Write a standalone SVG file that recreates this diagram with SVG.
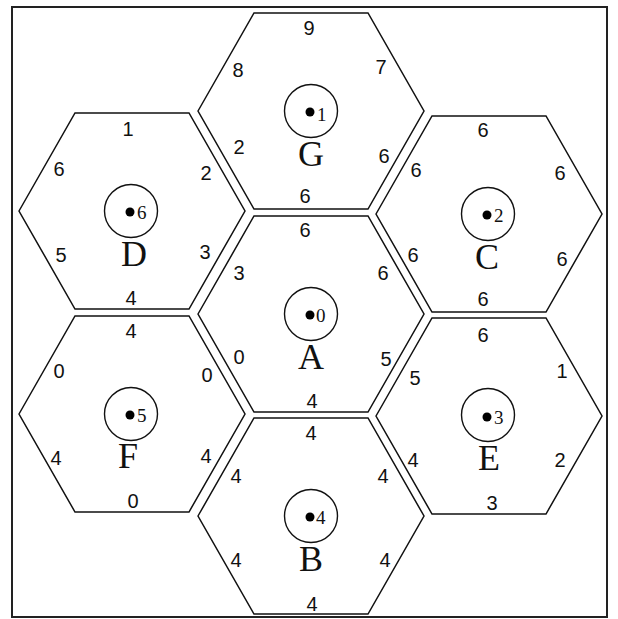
<svg xmlns="http://www.w3.org/2000/svg" width="618" height="619" viewBox="0 0 618 619">
<style>
.hex{fill:none;stroke:#111;stroke-width:1.5;stroke-linejoin:miter}
.ring{fill:none;stroke:#111;stroke-width:1.4}
.dot{fill:#000}
.lbl{font-family:"Liberation Sans",Arial,sans-serif;font-size:20px;fill:#111;text-anchor:middle}
.num{font-family:"Liberation Serif","Times New Roman",serif;font-size:19px;fill:#111}
.name{font-family:"Liberation Serif","Times New Roman",serif;font-size:36px;fill:#111;text-anchor:middle}
</style>
<rect x="0" y="0" width="618" height="619" fill="#fff"/>
<rect x="12" y="7" width="595" height="610" fill="none" stroke="#222" stroke-width="2"/>

<g id="cell-G">
<polygon class="hex" points="198,111 254,13 368,13 424,111 368,209 254,209"/>
<circle class="ring" cx="311" cy="111" r="26.5"/>
<circle class="dot" cx="310" cy="112" r="4.5"/>
<text class="num" x="317" y="121">1</text>
<text class="name" x="311" y="166">G</text>
<text class="lbl" x="309" y="35">9</text>
<text class="lbl" x="238" y="77">8</text>
<text class="lbl" x="381" y="74">7</text>
<text class="lbl" x="239" y="154">2</text>
<text class="lbl" x="384" y="163">6</text>
<text class="lbl" x="305" y="203">6</text>
</g>

<g id="cell-D">
<polygon class="hex" points="19,211 75,113 189,113 245,211 189,309 75,309"/>
<circle class="ring" cx="131" cy="211" r="26.5"/>
<circle class="dot" cx="130" cy="212" r="4.5"/>
<text class="num" x="137" y="219">6</text>
<text class="name" x="134" y="266">D</text>
<text class="lbl" x="128" y="136">1</text>
<text class="lbl" x="59" y="176">6</text>
<text class="lbl" x="206" y="180">2</text>
<text class="lbl" x="61" y="262">5</text>
<text class="lbl" x="205" y="259">3</text>
<text class="lbl" x="131" y="305">4</text>
</g>

<g id="cell-C">
<polygon class="hex" points="376,214 432,116 546,116 602,214 546,312 432,312"/>
<circle class="ring" cx="488" cy="214" r="26.5"/>
<circle class="dot" cx="487" cy="215" r="4.5"/>
<text class="num" x="494" y="222">2</text>
<text class="name" x="487" y="269">C</text>
<text class="lbl" x="483" y="137">6</text>
<text class="lbl" x="416" y="177">6</text>
<text class="lbl" x="560" y="180">6</text>
<text class="lbl" x="413" y="262">6</text>
<text class="lbl" x="562" y="266">6</text>
<text class="lbl" x="483" y="306">6</text>
</g>

<g id="cell-A">
<polygon class="hex" points="198,314 254,216 368,216 424,314 368,412 254,412"/>
<circle class="ring" cx="311" cy="314" r="26.5"/>
<circle class="dot" cx="310" cy="315" r="4.5"/>
<text class="num" x="316" y="322">0</text>
<text class="name" x="311" y="369">A</text>
<text class="lbl" x="305" y="237">6</text>
<text class="lbl" x="239" y="280">3</text>
<text class="lbl" x="383" y="280">6</text>
<text class="lbl" x="239" y="364">0</text>
<text class="lbl" x="386" y="366">5</text>
<text class="lbl" x="312" y="408">4</text>
</g>

<g id="cell-F">
<polygon class="hex" points="19,414 75,316 189,316 245,414 189,512 75,512"/>
<circle class="ring" cx="131" cy="414" r="26.5"/>
<circle class="dot" cx="130" cy="415" r="4.5"/>
<text class="num" x="137" y="422">5</text>
<text class="name" x="128" y="468">F</text>
<text class="lbl" x="131" y="338">4</text>
<text class="lbl" x="59" y="378">0</text>
<text class="lbl" x="207" y="382">0</text>
<text class="lbl" x="56" y="465">4</text>
<text class="lbl" x="206" y="463">4</text>
<text class="lbl" x="133" y="508">0</text>
</g>

<g id="cell-E">
<polygon class="hex" points="376,416 432,318 546,318 602,416 546,514 432,514"/>
<circle class="ring" cx="488" cy="415" r="26.5"/>
<circle class="dot" cx="487" cy="417" r="4.5"/>
<text class="num" x="494" y="424">3</text>
<text class="name" x="489" y="470">E</text>
<text class="lbl" x="483" y="342">6</text>
<text class="lbl" x="415" y="385">5</text>
<text class="lbl" x="562" y="378">1</text>
<text class="lbl" x="413" y="467">4</text>
<text class="lbl" x="560" y="467">2</text>
<text class="lbl" x="492" y="510">3</text>
</g>

<g id="cell-B">
<polygon class="hex" points="198,516 254,418 368,418 424,516 368,614 254,614"/>
<circle class="ring" cx="311" cy="516" r="26.5"/>
<circle class="dot" cx="310" cy="517" r="4.5"/>
<text class="num" x="316" y="524">4</text>
<text class="name" x="311" y="571">B</text>
<text class="lbl" x="311" y="440">4</text>
<text class="lbl" x="236" y="483">4</text>
<text class="lbl" x="383" y="483">4</text>
<text class="lbl" x="236" y="567">4</text>
<text class="lbl" x="385" y="567">4</text>
<text class="lbl" x="312" y="611">4</text>
</g>
</svg>
